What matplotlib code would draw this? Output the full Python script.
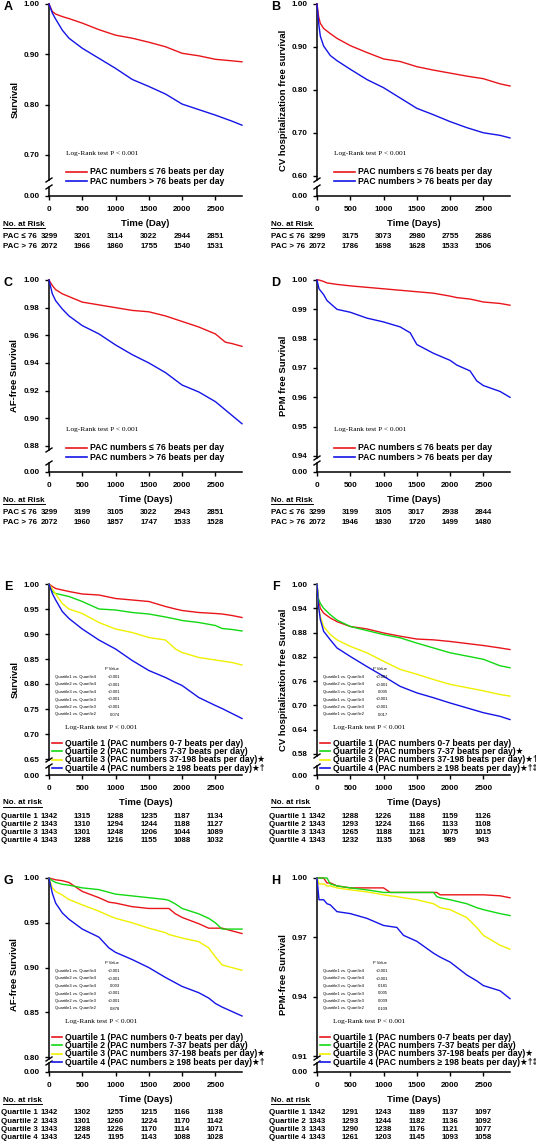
import numpy as np
import matplotlib
matplotlib.use('Agg')
import matplotlib.pyplot as plt
from matplotlib.lines import Line2D
from matplotlib.transforms import blended_transform_factory

plt.rcParams['font.family'] = ['Liberation Sans', 'DejaVu Sans']
plt.rcParams['font.weight'] = 'bold'

# ---------------- data ----------------
RISK_TIMES = [0, 500, 1000, 1500, 2000, 2500]
PAC_ROWS = ['PAC \u2264 76', 'PAC > 76']
Q_ROWS = ['Quartile 1', 'Quartile 2', 'Quartile 3', 'Quartile 4']
PAC_LEGEND = ['PAC numbers \u2264 76 beats per day', 'PAC numbers > 76 beats per day']
Q_LEGEND = ['Quartile 1 (PAC numbers 0-7 beats per day)',
            'Quartile 2 (PAC numbers 7-37 beats per day)',
            'Quartile 3 (PAC numbers 37-198 beats per day)',
            'Quartile 4 (PAC numbers \u2265 198 beats per day)']
PV_ROWS = ['Quartile1 vs. Quartile4', 'Quartile2 vs. Quartile4', 'Quartile3 vs. Quartile4',
           'Quartile1 vs. Quartile3', 'Quartile2 vs. Quartile3', 'Quartile1 vs. Quartile2']

# A - survival
A_t = [0, 50, 100, 200, 300, 500, 750, 1000, 1250, 1500, 1750, 2000, 2250, 2500, 2750, 2900]
A_low = [1.0, 0.985, 0.980, 0.975, 0.971, 0.962, 0.949, 0.938, 0.932, 0.924, 0.915, 0.902, 0.897, 0.890, 0.887, 0.885]
A_high = [1.0, 0.982, 0.970, 0.948, 0.932, 0.912, 0.892, 0.872, 0.850, 0.836, 0.821, 0.801, 0.790, 0.779, 0.767, 0.759]
A_risk = [[3299, 3201, 3114, 3022, 2944, 2851], [2072, 1966, 1860, 1755, 1540, 1531]]

# B - CV hospitalization free survival
B_t = [0, 25, 50, 100, 200, 300, 500, 750, 1000, 1250, 1500, 1750, 2000, 2250, 2500, 2750, 2900]
B_low = [1.0, 0.970, 0.955, 0.943, 0.931, 0.920, 0.903, 0.887, 0.872, 0.866, 0.854, 0.846, 0.839, 0.832, 0.826, 0.814, 0.809]
B_high = [1.0, 0.955, 0.925, 0.902, 0.880, 0.868, 0.848, 0.824, 0.805, 0.781, 0.757, 0.742, 0.726, 0.712, 0.700, 0.694, 0.688]
B_risk = [[3299, 3175, 3073, 2980, 2755, 2686], [2072, 1786, 1698, 1628, 1533, 1506]]

# C - AF-free survival
C_t = [0, 50, 100, 200, 300, 500, 750, 1000, 1250, 1500, 1750, 2000, 2250, 2500, 2650, 2750, 2900]
C_low = [1.0, 0.996, 0.993, 0.990, 0.988, 0.984, 0.982, 0.980, 0.978, 0.977, 0.974, 0.970, 0.966, 0.961, 0.955, 0.954, 0.952]
C_high = [1.0, 0.990, 0.985, 0.979, 0.974, 0.967, 0.961, 0.953, 0.946, 0.940, 0.933, 0.924, 0.919, 0.912, 0.906, 0.902, 0.896]
C_risk = [[3299, 3199, 3105, 3022, 2943, 2851], [2072, 1960, 1857, 1747, 1533, 1528]]

# D - PPM free survival
D_t = [0, 30, 100, 150, 300, 500, 750, 1000, 1250, 1400, 1500, 1750, 2000, 2100, 2300, 2400, 2500, 2750, 2900]
D_low = [1.0, 1.0, 0.9995, 0.999, 0.9985, 0.998, 0.9975, 0.997, 0.9965, 0.9962, 0.996, 0.9955, 0.9945, 0.994, 0.9935, 0.993, 0.9925, 0.992, 0.9914]
D_high = [1.0, 0.997, 0.995, 0.993, 0.990, 0.989, 0.987, 0.9857, 0.984, 0.982, 0.978, 0.975, 0.9726, 0.971, 0.969, 0.9656, 0.964, 0.962, 0.960]
D_risk = [[3299, 3199, 3105, 3017, 2938, 2844], [2072, 1946, 1830, 1720, 1499, 1480]]

# E - survival by quartile
E_t = [0, 50, 100, 200, 300, 500, 750, 1000, 1250, 1500, 1750, 1900, 2000, 2250, 2500, 2600, 2750, 2900]
E_q1 = [1.0, 0.995, 0.991, 0.988, 0.985, 0.980, 0.978, 0.971, 0.968, 0.965, 0.955, 0.950, 0.947, 0.943, 0.941, 0.940, 0.937, 0.933]
E_q2 = [1.0, 0.985, 0.981, 0.978, 0.975, 0.965, 0.950, 0.948, 0.943, 0.940, 0.934, 0.930, 0.927, 0.923, 0.917, 0.911, 0.909, 0.906]
E_q3 = [1.0, 0.990, 0.980, 0.961, 0.950, 0.941, 0.923, 0.910, 0.903, 0.893, 0.888, 0.870, 0.863, 0.853, 0.848, 0.846, 0.843, 0.838]
E_q4 = [1.0, 0.981, 0.968, 0.945, 0.931, 0.910, 0.888, 0.870, 0.847, 0.827, 0.813, 0.803, 0.797, 0.773, 0.757, 0.751, 0.741, 0.731]
E_risk = [[1342, 1315, 1288, 1235, 1187, 1134], [1343, 1310, 1294, 1244, 1188, 1127],
          [1343, 1301, 1248, 1206, 1044, 1089], [1343, 1288, 1216, 1155, 1088, 1032]]
E_p = ['<0.001', '<0.001', '<0.001', '<0.001', '<0.001', '0.074']

# F - CV hospitalization free survival by quartile
F_t = [0, 20, 50, 100, 200, 300, 500, 750, 1000, 1250, 1500, 1750, 2000, 2250, 2500, 2750, 2900]
F_q1 = [1.0, 0.960, 0.940, 0.928, 0.916, 0.907, 0.895, 0.889, 0.879, 0.871, 0.864, 0.862, 0.858, 0.853, 0.848, 0.842, 0.838]
F_q2 = [1.0, 0.965, 0.952, 0.940, 0.924, 0.911, 0.895, 0.885, 0.875, 0.867, 0.854, 0.842, 0.830, 0.822, 0.814, 0.798, 0.793]
F_q3 = [1.0, 0.950, 0.920, 0.895, 0.875, 0.862, 0.846, 0.830, 0.809, 0.789, 0.777, 0.764, 0.752, 0.744, 0.736, 0.727, 0.723]
F_q4 = [1.0, 0.950, 0.912, 0.883, 0.862, 0.842, 0.821, 0.796, 0.772, 0.747, 0.731, 0.719, 0.706, 0.694, 0.682, 0.673, 0.665]
F_risk = [[1342, 1288, 1226, 1188, 1159, 1126], [1343, 1293, 1224, 1166, 1133, 1108],
          [1343, 1265, 1188, 1121, 1075, 1015], [1343, 1232, 1135, 1068, 989, 943]]
F_p = ['<0.001', '<0.001', '0.005', '<0.001', '<0.001', '0.017']

# G - AF-free survival by quartile
G_t = [0, 50, 100, 200, 300, 500, 750, 900, 1000, 1250, 1500, 1750, 1800, 1900, 2000, 2250, 2400, 2500, 2600, 2750, 2900]
G_q1 = [1.0, 0.999, 0.998, 0.997, 0.995, 0.985, 0.978, 0.973, 0.972, 0.968, 0.966, 0.966, 0.966, 0.960, 0.956, 0.949, 0.944, 0.944, 0.944, 0.941, 0.938]
G_q2 = [1.0, 0.997, 0.995, 0.993, 0.992, 0.989, 0.987, 0.984, 0.982, 0.980, 0.978, 0.976, 0.975, 0.971, 0.966, 0.960, 0.955, 0.950, 0.943, 0.943, 0.943]
G_q3 = [1.0, 0.989, 0.985, 0.981, 0.976, 0.970, 0.963, 0.958, 0.955, 0.950, 0.944, 0.939, 0.937, 0.935, 0.933, 0.929, 0.922, 0.912, 0.903, 0.900, 0.897]
G_q4 = [1.0, 0.983, 0.972, 0.961, 0.954, 0.943, 0.934, 0.922, 0.917, 0.909, 0.900, 0.889, 0.887, 0.883, 0.879, 0.872, 0.866, 0.860, 0.856, 0.851, 0.846]
G_risk = [[1342, 1302, 1255, 1215, 1166, 1138], [1343, 1301, 1260, 1224, 1170, 1142],
          [1343, 1288, 1226, 1170, 1114, 1071], [1343, 1245, 1195, 1143, 1088, 1028]]
G_p = ['<0.001', '<0.001', '0.003', '<0.001', '<0.001', '0.878']

# H - PPM-free survival by quartile
H_t = [0, 30, 100, 150, 200, 300, 500, 750, 1000, 1100, 1200, 1300, 1500, 1750, 1800, 1850, 2000, 2250, 2400, 2500, 2750, 2900]
H_q1 = [1.0, 1.0, 1.0, 0.9975, 0.9975, 0.996, 0.995, 0.995, 0.995, 0.9927, 0.9927, 0.9927, 0.9927, 0.9927, 0.9927, 0.9915, 0.9915, 0.9915, 0.9915, 0.9915, 0.991, 0.990]
H_q2 = [1.0, 1.0, 1.0, 1.0, 0.997, 0.996, 0.995, 0.994, 0.9927, 0.9927, 0.9927, 0.9927, 0.9927, 0.9927, 0.9906, 0.990, 0.989, 0.987, 0.985, 0.984, 0.982, 0.981]
H_q3 = [1.0, 0.997, 0.997, 0.996, 0.996, 0.995, 0.994, 0.993, 0.9915, 0.991, 0.9906, 0.990, 0.989, 0.987, 0.986, 0.985, 0.984, 0.980, 0.975, 0.971, 0.966, 0.964]
H_q4 = [1.0, 0.989, 0.989, 0.987, 0.9864, 0.983, 0.982, 0.9796, 0.976, 0.9755, 0.975, 0.971, 0.968, 0.962, 0.961, 0.960, 0.9575, 0.951, 0.948, 0.9456, 0.943, 0.939]
H_risk = [[1342, 1291, 1243, 1189, 1137, 1097], [1343, 1293, 1244, 1182, 1136, 1092],
          [1343, 1290, 1238, 1176, 1121, 1077], [1343, 1261, 1203, 1145, 1093, 1058]]
H_p = ['<0.001', '<0.001', '0.181', '0.005', '0.009', '0.109']

RED, GREEN, YELLOW, BLUE = '#e8151b', '#12d812', '#f0f000', '#1414e6'

# ---------------- layout helpers ----------------
W, H = 536, 1143
fig = plt.figure(figsize=(W / 100, H / 100), dpi=100)


def fx(px):
    return px / W


def fy(py):
    return 1 - py / H


def brk(x, y):
    # little slanted break mark on the y axis
    fig.add_artist(Line2D([fx(x - 3), fx(x + 3)], [fy(y + 2), fy(y - 2)],
                          color='black', lw=1.0, transform=fig.transFigure))


def draw_panel(letter, left, top, bot, zero, ymin, yticks, ylabel, xlabel,
               t, curves, colors, leg_labels, risk_rows, risk, pvals=None):
    right = left + 193
    ax = fig.add_axes([fx(left), fy(bot), (right - left) / W, (bot - top) / H])
    for s, c in zip(curves, colors):
        ax.plot(t, s, color=c, lw=1.0, clip_on=False, zorder=3)
    ax.set_xlim(0, 2900)
    ax.set_ylim(ymin, 1.0)
    ax.set_yticks(yticks)
    ax.set_yticklabels(['%.2f' % v for v in yticks])
    ax.set_xticks([])
    for sp in ['top', 'right', 'bottom']:
        ax.spines[sp].set_visible(False)
    ax.spines['left'].set_linewidth(1.1)
    ax.tick_params(axis='y', direction='out', length=3, width=1, pad=4, labelsize=5.8)

    # lower segment with 0.00 and the time axis
    ax2 = fig.add_axes([fx(left), fy(zero), (right - left) / W, 9 / H])
    ax2.set_xlim(0, 2900)
    ax2.set_ylim(0, 1)
    ax2.set_yticks([0])
    ax2.set_yticklabels(['0.00'])
    ax2.set_xticks(RISK_TIMES)
    ax2.set_xticklabels([str(v) for v in RISK_TIMES])
    for sp in ['top', 'right']:
        ax2.spines[sp].set_visible(False)
    ax2.spines['left'].set_linewidth(1.1)
    ax2.spines['bottom'].set_linewidth(1.1)
    ax2.tick_params(direction='out', length=3, width=1, pad=4, labelsize=5.8)
    ax2.patch.set_alpha(0)
    brk(left, bot)
    brk(left, zero - 9)

    fig.text(fx(left - 41), fy(top + 3.5), letter, fontsize=9, ha='center', va='center')
    fig.text(fx(left - 34), fy((top + zero) / 2), ylabel, rotation=90, fontsize=6.8,
             ha='center', va='center')
    fig.text(fx((left + right) / 2), fy(zero + 27.5), xlabel, fontsize=6.8,
             ha='center', va='center')

    # legend
    two = len(curves) == 2
    if two:
        lx0, lx1, tx, ly0, pitch = left + 17, left + 38, left + 41, top + 168, 9
    else:
        lx0, lx1, tx, ly0, pitch = left + 3, left + 13, left + 16, top + 159, 8.4
    for i, (c, lab) in enumerate(zip(colors, leg_labels)):
        yy = ly0 + i * pitch
        fig.add_artist(Line2D([fx(lx0), fx(lx1)], [fy(yy), fy(yy)], color=c, lw=1.2,
                              transform=fig.transFigure))
        fig.text(fx(tx), fy(yy), lab, fontsize=6.2, ha='left', va='center')

    if two:
        lr_x, lr_y = left + 17, top + 150
    else:
        lr_x, lr_y = left + 16, top + 143
    fig.text(fx(lr_x), fy(lr_y), 'Log-Rank test P < 0.001',
             family='Liberation Serif', fontweight='normal', fontsize=5.3,
             ha='left', va='center')

    if pvals is not None:
        fig.text(fx(left + 63), fy(top + 85), 'P Value', fontsize=3, fontweight='normal',
                 ha='center', va='center')
        for i, (r, p) in enumerate(zip(PV_ROWS, pvals)):
            yy = top + 93 + i * 7.5
            fig.text(fx(left + 6), fy(yy), r, fontsize=3, fontweight='normal', va='center')
            fig.text(fx(left + 71), fy(yy), p, fontsize=3, fontweight='normal',
                     ha='right', va='center')

    # number at risk table
    lab_x = left - 46 if two else left - 48
    nar = fig.text(fx(left - 46), fy(zero + 28), 'No. at Risk' if two else 'No. at risk',
                   fontsize=5.8, ha='left', va='center')
    fig.canvas.draw()
    bb = nar.get_window_extent().transformed(fig.transFigure.inverted())
    fig.add_artist(Line2D([bb.x0, bb.x1], [bb.y0 - 0.0004, bb.y0 - 0.0004], color='black',
                          lw=0.7, transform=fig.transFigure))
    trans = blended_transform_factory(ax2.transData, fig.transFigure)
    step = 9 if two else 8.2
    for i, (name, row) in enumerate(zip(risk_rows, risk)):
        yy = fy(zero + 41 + i * step)
        fig.text(fx(lab_x), yy, name, fontsize=5.7, ha='left', va='center')
        for tt, n in zip(RISK_TIMES, row):
            fig.text(tt, yy, str(n), fontsize=5.6, ha='center',
                     va='center', transform=trans)


pac_cols = [RED, BLUE]
q_cols = [RED, GREEN, YELLOW, BLUE]


def q_leg(suffixes):
    return [lab + s for lab, s in zip(Q_LEGEND, suffixes)]


draw_panel('A', 49, 4, 180, 196, 0.65, [0.70, 0.80, 0.90, 1.00], 'Survival', 'Time (Day)',
           A_t, [A_low, A_high], pac_cols, PAC_LEGEND, PAC_ROWS, A_risk)
draw_panel('B', 317, 4, 180, 196, 0.59, [0.60, 0.70, 0.80, 0.90, 1.00],
           'CV hospitalization free survival', 'Time (Days)',
           B_t, [B_low, B_high], pac_cols, PAC_LEGEND, PAC_ROWS, B_risk)
draw_panel('C', 49, 280, 450, 472, 0.877, [0.88, 0.90, 0.92, 0.94, 0.96, 0.98, 1.00],
           'AF-free Survival', 'Time (Days)',
           C_t, [C_low, C_high], pac_cols, PAC_LEGEND, PAC_ROWS, C_risk)
draw_panel('D', 317, 280, 458, 472, 0.9393, [0.94, 0.95, 0.96, 0.97, 0.98, 0.99, 1.00],
           'PPM free Survival', 'Time (Days)',
           D_t, [D_low, D_high], pac_cols, PAC_LEGEND, PAC_ROWS, D_risk)
draw_panel('E', 49, 584, 760, 775, 0.648, [0.65, 0.70, 0.75, 0.80, 0.85, 0.90, 0.95, 1.00],
           'Survival', 'Time (Days)',
           E_t, [E_q1, E_q2, E_q3, E_q4], q_cols, q_leg(['', '', '\u2605', '\u2605\u2020']),
           Q_ROWS, E_risk, E_p)
draw_panel('F', 317, 584, 756, 775, 0.575, [0.58, 0.64, 0.70, 0.76, 0.82, 0.88, 0.94, 1.00],
           'CV hospitalization free Survival', 'Time (Days)',
           F_t, [F_q1, F_q2, F_q3, F_q4], q_cols,
           q_leg(['', '\u2605', '\u2605\u2020', '\u2605\u2020\u2021']), Q_ROWS, F_risk, F_p)
draw_panel('G', 49, 878, 1059, 1072, 0.798, [0.80, 0.85, 0.90, 0.95, 1.00],
           'AF-free Survival', 'Time (Days)',
           G_t, [G_q1, G_q2, G_q3, G_q4], q_cols, q_leg(['', '', '\u2605', '\u2605\u2020']),
           Q_ROWS, G_risk, G_p)
draw_panel('H', 317, 878, 1058, 1072, 0.909, [0.91, 0.94, 0.97, 1.00],
           'PPM-free Survival', 'Time (Days)',
           H_t, [H_q1, H_q2, H_q3, H_q4], q_cols,
           q_leg(['', '', '\u2605', '\u2605\u2020\u2021']), Q_ROWS, H_risk, H_p)

fig.savefig('out.png', dpi=100)
